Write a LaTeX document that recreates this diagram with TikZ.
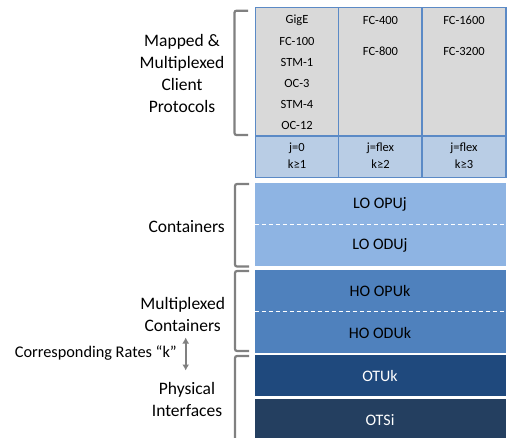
\documentclass[tikz,border=0pt]{standalone}
\usepackage{fontspec}
\setmainfont{Carlito}
\usetikzlibrary{arrows.meta}
\definecolor{gcell}{HTML}{D9D9D9}
\definecolor{bcell}{HTML}{B9CDE5}
\definecolor{bline}{HTML}{5B8AC6}
\definecolor{locol}{HTML}{8EB4E3}
\definecolor{hocol}{HTML}{4F81BD}
\definecolor{otucol}{HTML}{1F497D}
\definecolor{otscol}{HTML}{243F60}
\definecolor{brk}{HTML}{808080}
\tikzset{
  celltxt/.style={font=\fontsize{12.5}{15}\selectfont, inner sep=0pt, text=black},
  blocktxt/.style={font=\fontsize{16}{19}\selectfont, inner sep=0pt},
  sidetxt/.style={font=\fontsize{17.5}{22}\selectfont, align=center, inner sep=0pt},
  bracket/.style={draw=brk, line width=2.2pt, rounded corners=2pt},
  sep/.style={draw=white, line width=0.8pt, dash pattern=on 4pt off 3pt},
  blockfill/.style={draw=white, line width=0.6pt}
}
\begin{document}
\begin{tikzpicture}[x=1pt,y=-1pt]
\useasboundingbox (0,0) rectangle (509,437);
% table
\fill[gcell] (255.5,7.5) rectangle (506,136);
\fill[bcell] (255.5,136) rectangle (506,177.5);
\draw[bline, line width=1.3pt] (255.5,7.5) rectangle (506,177.5);
\draw[bline, line width=1.3pt] (255.5,136) -- (506,136);
\draw[bline, line width=1.3pt] (338.7,7.5) -- (338.7,177.5);
\draw[bline, line width=1.3pt] (422,7.5) -- (422,177.5);
% column 1
\node[celltxt] (gige) at (297,20) {GigE};
\node[celltxt] (fc100) at (297,41) {FC-100};
\node[celltxt] (stm1) at (297,62) {STM-1};
\node[celltxt] (oc3) at (297,83) {OC-3};
\node[celltxt] (stm4) at (297,104) {STM-4};
\node[celltxt] (oc12) at (297,125) {OC-12};
% column 2
\node[celltxt] (fc400) at (380.5,20) {FC-400};
\node[celltxt] (fc800) at (380.5,51) {FC-800};
% column 3
\node[celltxt] (fc1600) at (464,20) {FC-1600};
\node[celltxt] (fc3200) at (464,51) {FC-3200};
% bottom row
\node[celltxt] (j1) at (297,148) {j=0};
\node[celltxt] (k1) at (297,164) {k≥1};
\node[celltxt] (j2) at (380.5,148) {j=flex};
\node[celltxt] (k2) at (380.5,164) {k≥2};
\node[celltxt] (j3) at (464,148) {j=flex};
\node[celltxt] (k3) at (464,164) {k≥3};
% blocks
\filldraw[blockfill, fill=locol] (254.5,182) rectangle (506.5,266.5);
\draw[sep] (254.5,224) -- (506.5,224);
\filldraw[blockfill, fill=hocol] (254.5,269) rectangle (506.5,353);
\draw[sep] (254.5,311.7) -- (506.5,311.7);
\filldraw[blockfill, fill=otucol] (254.5,354) rectangle (506.5,396);
\filldraw[blockfill, fill=otscol] (254.5,398.5) rectangle (506.5,440);
\node[blocktxt, text=black] (loopu) at (380,204) {LO OPUj};
\node[blocktxt, text=black] (loodu) at (380,245) {LO ODUj};
\node[blocktxt, text=black] (hoopu) at (380,290.7) {HO OPUk};
\node[blocktxt, text=black] (hoodu) at (380,332.7) {HO ODUk};
\node[blocktxt, text=white] (otuk) at (380,376) {OTUk};
\node[blocktxt, text=white] (otsi) at (380,420) {OTSi};
% brackets
\draw[bracket] (248,10.7) -- (234.5,10.7) -- (234.5,135) -- (248,135);
\draw[bracket] (249,184) -- (235,184) -- (235,266.5) -- (249,266.5);
\draw[bracket] (249,271) -- (235,271) -- (235,351) -- (249,351);
\draw[bracket] (249,356) -- (235,356) -- (235,440);
% side labels
\node[sidetxt] (mapped) at (182,73) {Mapped \&\\Multiplexed\\Client\\Protocols};
\node[sidetxt] (cont) at (186.7,226.7) {Containers};
\node[sidetxt] (mcont) at (182.7,314) {Multiplexed\\Containers};
\node[sidetxt] (phys) at (187,399.3) {Physical\\Interfaces};
\node[font=\fontsize{16.3}{19}\selectfont, inner sep=0pt, anchor=east] (rates) at (177,352.7) {Corresponding Rates “k”};
\coordinate (arT) at (185.7,337.5);
\coordinate (arB) at (185.7,370.5);
\draw[brk, line width=2pt, {Latex[length=6pt,width=7pt]}-{Latex[length=6pt,width=7pt]}] (arT) -- (arB);
\end{tikzpicture}
\end{document}
